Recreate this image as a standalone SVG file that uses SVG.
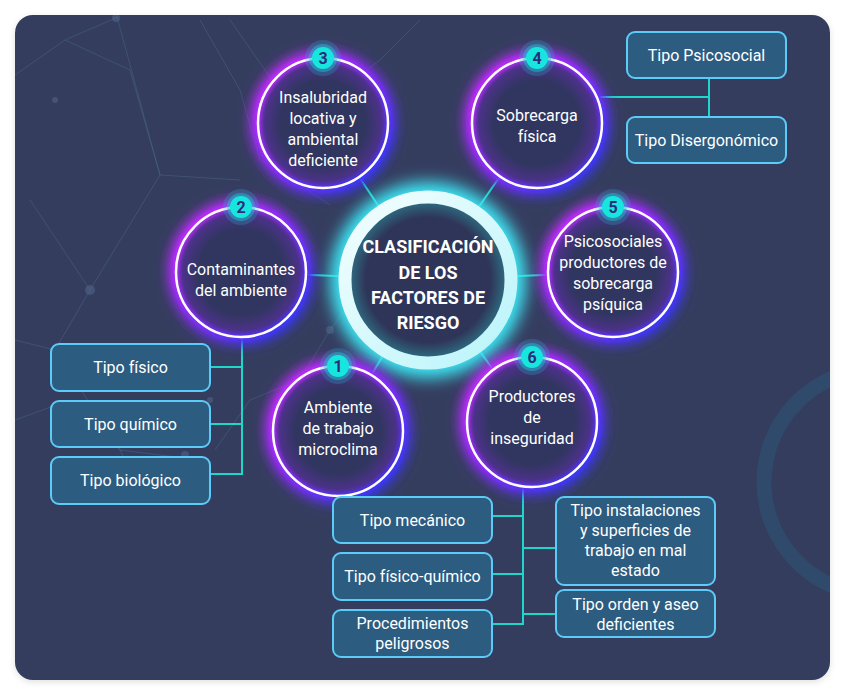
<svg xmlns="http://www.w3.org/2000/svg" width="845" height="696" viewBox="0 0 845 696">
<defs>
<style>
.t{font-family:Roboto,"Liberation Sans",sans-serif;font-size:16px;fill:#ffffff;text-anchor:middle;dominant-baseline:central}
.ct{font-family:Roboto,"Liberation Sans",sans-serif;font-size:18px;font-weight:bold;fill:#ffffff;text-anchor:middle;dominant-baseline:central}
.bn{font-family:Roboto,"Liberation Sans",sans-serif;font-size:16px;font-weight:bold;fill:#2B2D7A;text-anchor:middle;dominant-baseline:central}
.box{fill:#2C5C80;stroke:#5CCBF7;stroke-width:2}
.con{stroke:#1FD6CB;stroke-width:2;fill:none}
.net{stroke:#4C7A98;stroke-width:1;fill:none;opacity:0.35}
.dot{fill:#56698E;opacity:0.5}
.sat{fill:url(#satFill)}
.glow{fill:none;stroke:url(#ringGrad);stroke-width:16;filter:url(#blur6)}
.glow2{fill:none;stroke:url(#ringGrad);stroke-width:6;filter:url(#blur2)}
.ring{fill:none;stroke:#ffffff;stroke-width:2.5}
.halo1{fill:#20B6C9;opacity:0.25}
.halo2{fill:#20C6D2;opacity:0.45}
.badge{fill:#17E6DF}
</style>
<linearGradient id="ringGrad" x1="0" y1="0" x2="1" y2="1">
<stop offset="0" stop-color="#D42CFF"/>
<stop offset="0.5" stop-color="#8A2BFF"/>
<stop offset="1" stop-color="#1F3BFF"/>
</linearGradient>
<radialGradient id="satFill" cx="0.5" cy="0.5" r="0.5">
<stop offset="0.65" stop-color="#30365F"/>
<stop offset="1" stop-color="#57309A"/>
</radialGradient>
<radialGradient id="cenFill" cx="0.5" cy="0.5" r="0.5">
<stop offset="0.8" stop-color="#2E3558"/>
<stop offset="1" stop-color="#2E6A80"/>
</radialGradient>
<linearGradient id="cenRing" x1="0" y1="0" x2="1" y2="1">
<stop offset="0" stop-color="#F5FEFF"/>
<stop offset="1" stop-color="#B8F4FA"/>
</linearGradient>
<filter id="blur6" x="-30%" y="-30%" width="160%" height="160%"><feGaussianBlur stdDeviation="6"/></filter>
<filter id="blur2" x="-30%" y="-30%" width="160%" height="160%"><feGaussianBlur stdDeviation="2"/></filter>
<filter id="blur8" x="-30%" y="-30%" width="160%" height="160%"><feGaussianBlur stdDeviation="8"/></filter>
<filter id="shadow" x="-5%" y="-5%" width="110%" height="110%"><feDropShadow dx="0" dy="2" stdDeviation="3" flood-color="#000000" flood-opacity="0.12"/></filter>
<clipPath id="panelClip"><rect x="15" y="15" width="815" height="665" rx="18"/></clipPath>
</defs>

<rect x="0" y="0" width="845" height="696" fill="#ffffff"/>
<rect x="15" y="15" width="815" height="665" rx="18" fill="#343C5E" filter="url(#shadow)"/>

<g id="background" clip-path="url(#panelClip)">
<circle cx="877" cy="482" r="113" fill="none" stroke="#2F4A6B" stroke-width="15"/>
<polyline class="net" points="15,75 65,40 118,17"/>
<polyline class="net" points="65,40 130,70 160,175 117,17"/>
<polyline class="net" points="30,200 90,290 55,350 15,340"/>
<polyline class="net" points="90,290 160,175 240,180"/>
<polyline class="net" points="15,420 70,400 120,450 200,460"/>
<polyline class="net" points="55,350 120,450 145,500"/>
<polyline class="net" points="200,20 240,90 260,160 330,205"/>
<polyline class="net" points="230,20 300,120 380,60 420,20"/>
<polyline class="net" points="330,330 300,380 250,400 215,450"/>
<polyline class="net" points="330,330 360,290"/>
<circle class="dot" cx="116" cy="18" r="4"/>
<circle class="dot" cx="55" cy="100" r="3"/>
<circle class="dot" cx="90" cy="290" r="5"/>
<circle class="dot" cx="195" cy="410" r="4"/>
<circle class="dot" cx="210" cy="400" r="3"/>
<circle class="dot" cx="185" cy="455" r="4"/>
<circle class="dot" cx="330" cy="330" r="4"/>
</g>

<g id="connectors">
<line class="con" x1="428" y1="280" x2="323" y2="123"/>
<line class="con" x1="428" y1="280" x2="537" y2="123"/>
<line class="con" x1="428" y1="280" x2="241" y2="272"/>
<line class="con" x1="428" y1="280" x2="613" y2="272"/>
<line class="con" x1="428" y1="280" x2="338" y2="431"/>
<line class="con" x1="428" y1="280" x2="532" y2="423"/>
<polyline class="con" points="242,330 242,474 210,474"/>
<line class="con" x1="210" y1="367" x2="242" y2="367"/>
<line class="con" x1="210" y1="424" x2="242" y2="424"/>
<line class="con" x1="600" y1="97" x2="709" y2="97"/>
<line class="con" x1="709" y1="78" x2="709" y2="117"/>
<polyline class="con" points="523,485 523,624 492,624"/>
<line class="con" x1="492" y1="516" x2="523" y2="516"/>
<line class="con" x1="492" y1="574" x2="523" y2="574"/>
<line class="con" x1="523" y1="548" x2="556" y2="548"/>
<line class="con" x1="523" y1="614" x2="556" y2="614"/>
</g>

<g id="center">
<circle cx="428" cy="280" r="84" fill="none" stroke="#3EEAF8" stroke-width="28" filter="url(#blur8)"/>
<circle cx="428" cy="280" r="78" fill="url(#cenFill)"/>
<circle cx="428" cy="280" r="83" fill="none" stroke="url(#cenRing)" stroke-width="13"/>
<text class="ct" x="428" y="246">CLASIFICACIÓN</text>
<text class="ct" x="428" y="272">DE LOS</text>
<text class="ct" x="428" y="297">FACTORES DE</text>
<text class="ct" x="428" y="322">RIESGO</text>
</g>

<g id="node3">
<circle class="glow" cx="323" cy="123" r="65"/>
<circle class="sat" cx="323" cy="123" r="65"/>
<circle class="glow2" cx="323" cy="123" r="65"/>
<circle class="ring" cx="323" cy="123" r="65"/>
<circle class="halo1" cx="323" cy="58" r="18"/><circle class="halo2" cx="323" cy="58" r="14"/><circle class="badge" cx="323" cy="58" r="11"/>
<text class="bn" x="323" y="58">3</text>
<text class="t" x="323" y="97">Insalubridad</text>
<text class="t" x="323" y="118">locativa y</text>
<text class="t" x="323" y="139">ambiental</text>
<text class="t" x="323" y="160">deficiente</text>
</g>

<g id="node4">
<circle class="glow" cx="537" cy="123" r="65"/>
<circle class="sat" cx="537" cy="123" r="65"/>
<circle class="glow2" cx="537" cy="123" r="65"/>
<circle class="ring" cx="537" cy="123" r="65"/>
<circle class="halo1" cx="537" cy="58" r="18"/><circle class="halo2" cx="537" cy="58" r="14"/><circle class="badge" cx="537" cy="58" r="11"/>
<text class="bn" x="537" y="58">4</text>
<text class="t" x="537" y="115">Sobrecarga</text>
<text class="t" x="537" y="136">física</text>
</g>

<g id="node2">
<circle class="glow" cx="241" cy="272" r="65"/>
<circle class="sat" cx="241" cy="272" r="65"/>
<circle class="glow2" cx="241" cy="272" r="65"/>
<circle class="ring" cx="241" cy="272" r="65"/>
<circle class="halo1" cx="241" cy="207" r="18"/><circle class="halo2" cx="241" cy="207" r="14"/><circle class="badge" cx="241" cy="207" r="11"/>
<text class="bn" x="241" y="207">2</text>
<text class="t" x="241" y="269">Contaminantes</text>
<text class="t" x="241" y="290">del ambiente</text>
</g>

<g id="node5">
<circle class="glow" cx="613" cy="272" r="65"/>
<circle class="sat" cx="613" cy="272" r="65"/>
<circle class="glow2" cx="613" cy="272" r="65"/>
<circle class="ring" cx="613" cy="272" r="65"/>
<circle class="halo1" cx="613" cy="207" r="18"/><circle class="halo2" cx="613" cy="207" r="14"/><circle class="badge" cx="613" cy="207" r="11"/>
<text class="bn" x="613" y="207">5</text>
<text class="t" x="613" y="241">Psicosociales</text>
<text class="t" x="613" y="262">productores de</text>
<text class="t" x="613" y="283">sobrecarga</text>
<text class="t" x="613" y="304">psíquica</text>
</g>

<g id="node1">
<circle class="glow" cx="338" cy="431" r="65"/>
<circle class="sat" cx="338" cy="431" r="65"/>
<circle class="glow2" cx="338" cy="431" r="65"/>
<circle class="ring" cx="338" cy="431" r="65"/>
<circle class="halo1" cx="338" cy="366" r="18"/><circle class="halo2" cx="338" cy="366" r="14"/><circle class="badge" cx="338" cy="366" r="11"/>
<text class="bn" x="338" y="366">1</text>
<text class="t" x="338" y="407">Ambiente</text>
<text class="t" x="338" y="428">de trabajo</text>
<text class="t" x="338" y="449">microclima</text>
</g>

<g id="node6">
<circle class="glow" cx="532" cy="422" r="65"/>
<circle class="sat" cx="532" cy="422" r="65"/>
<circle class="glow2" cx="532" cy="422" r="65"/>
<circle class="ring" cx="532" cy="422" r="65"/>
<circle class="halo1" cx="532" cy="357" r="18"/><circle class="halo2" cx="532" cy="357" r="14"/><circle class="badge" cx="532" cy="357" r="11"/>
<text class="bn" x="532" y="357">6</text>
<text class="t" x="532" y="396">Productores</text>
<text class="t" x="532" y="417">de</text>
<text class="t" x="532" y="438">inseguridad</text>
</g>

<g id="box-fisico"><rect class="box" x="51" y="344" width="159" height="47" rx="8"/><text class="t" x="130.5" y="367.5">Tipo físico</text></g>
<g id="box-quimico"><rect class="box" x="51" y="401" width="159" height="46" rx="8"/><text class="t" x="130.5" y="424">Tipo químico</text></g>
<g id="box-biologico"><rect class="box" x="51" y="457" width="159" height="47" rx="8"/><text class="t" x="130.5" y="480.5">Tipo biológico</text></g>
<g id="box-psicosocial"><rect class="box" x="627" y="32" width="159" height="46" rx="8"/><text class="t" x="706.5" y="55">Tipo Psicosocial</text></g>
<g id="box-disergonomico"><rect class="box" x="627" y="117" width="159" height="46" rx="8"/><text class="t" x="706.5" y="140">Tipo Disergonómico</text></g>
<g id="box-mecanico"><rect class="box" x="333" y="497" width="159" height="46" rx="8"/><text class="t" x="412.5" y="520">Tipo mecánico</text></g>
<g id="box-fisicoquimico"><rect class="box" x="333" y="553" width="159" height="47" rx="8"/><text class="t" x="412.5" y="576.5">Tipo físico-químico</text></g>
<g id="box-procedimientos"><rect class="box" x="333" y="610" width="159" height="47" rx="8"/><text class="t" x="412.5" y="623">Procedimientos</text><text class="t" x="412.5" y="643">peligrosos</text></g>
<g id="box-instalaciones"><rect class="box" x="556" y="497" width="159" height="88" rx="8"/><text class="t" x="635.5" y="510">Tipo instalaciones</text><text class="t" x="635.5" y="530">y superficies de</text><text class="t" x="635.5" y="550">trabajo en mal</text><text class="t" x="635.5" y="570">estado</text></g>
<g id="box-orden"><rect class="box" x="556" y="590" width="159" height="47" rx="8"/><text class="t" x="635.5" y="604">Tipo orden y aseo</text><text class="t" x="635.5" y="624">deficientes</text></g>
</svg>
